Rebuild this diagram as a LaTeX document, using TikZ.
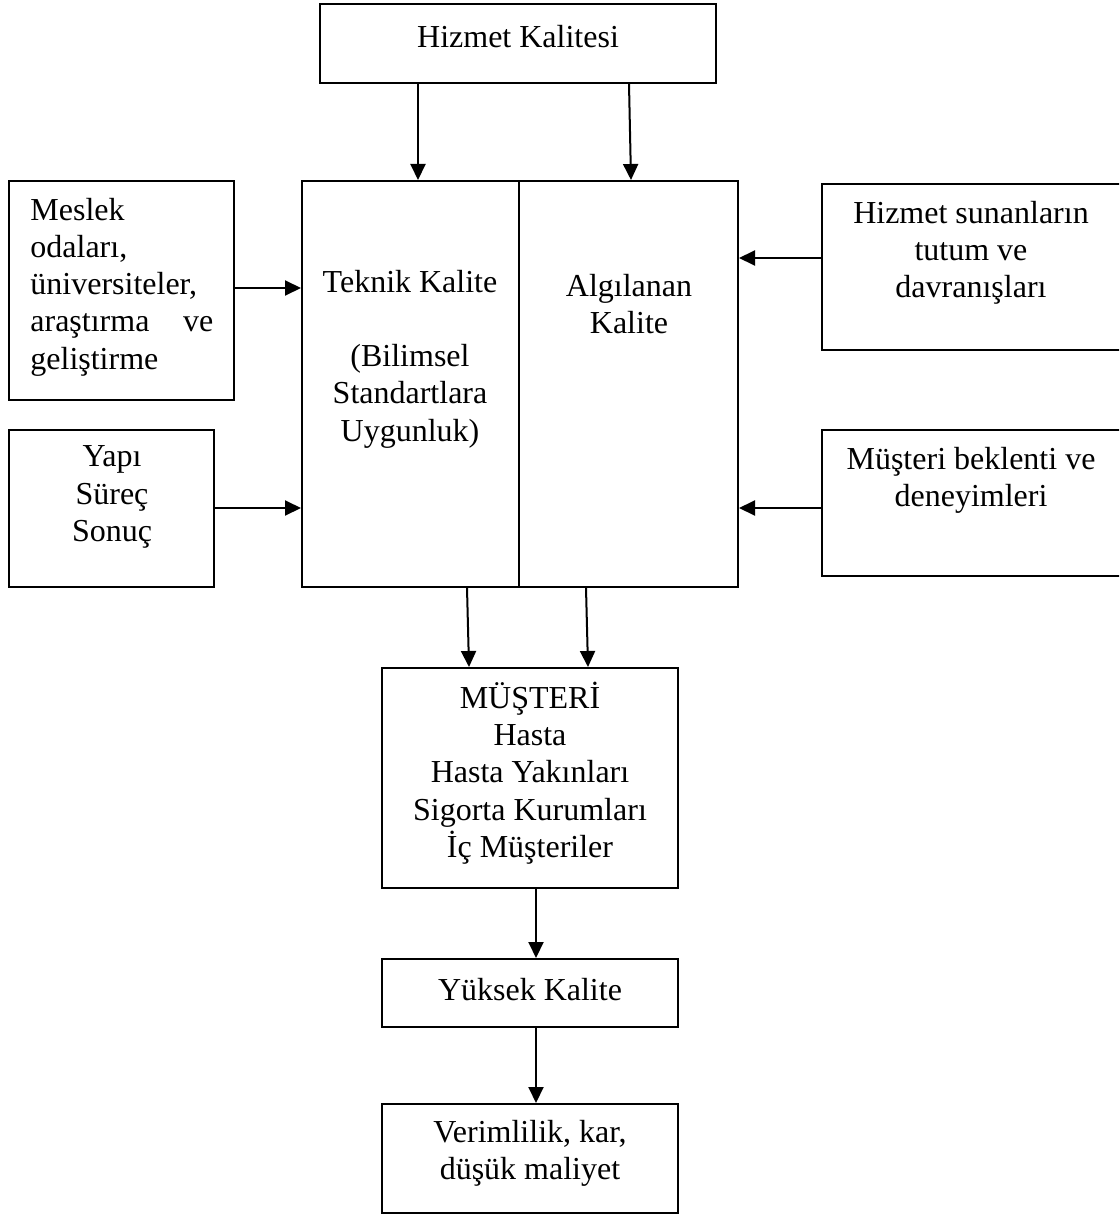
\documentclass[tikz,border=0pt]{standalone}
\usepackage{fontspec}
\setmainfont{Liberation Serif}
\usetikzlibrary{arrows.meta,fit}
\begin{document}
\begin{tikzpicture}[x=0.5pt,y=-0.5pt,
  box/.style={draw,line width=1pt,inner sep=0pt,rectangle},
  txt/.style={font=\fontsize{16pt}{18.6pt}\selectfont,align=center,inner sep=0pt},
  arr/.style={line width=1pt,-{Triangle[length=8pt,width=7.5pt]}}]
\useasboundingbox (0,0) rectangle (1119,1214);
\clip (0,0) rectangle (1119,1214);
% boxes
\node[box, fit={(320,4) (716,83)}] (hk) {};
\node[box, fit={(302,181) (519,587)}] (tek) {};
\node[box, fit={(519,181) (738,587)}] (alg) {};
\node[box, fit={(9,181) (234,400)}] (mes) {};
\node[box, fit={(9,430) (214,587)}] (yapi) {};
\node[box, fit={(822,184) (1135,350)}] (hsun) {};
\node[box, fit={(822,430) (1135,576)}] (mbek) {};
\node[box, fit={(382,668) (678,888)}] (mus) {};
\node[box, fit={(382,959) (678,1027)}] (yuk) {};
\node[box, fit={(382,1104) (678,1213)}] (ver) {};
% texts
\node[txt] (hkT) at (518,37) {Hizmet Kalitesi};
\node[txt] (tekT) at (410,359) {Teknik Kalite\\ \\ (Bilimsel\\ Standartlara\\ Uygunluk)};
\node[txt] (algT) at (629,304) {Algılanan\\ Kalite};
\node[txt, align=left, text width=91.5pt, anchor=west] (mesT) at (30,287) {Meslek\\ odaları,\\ üniversiteler,\\ araştırma\hskip 0pt plus 1filll ve\\ geliştirme};
\node[txt] (yapiT) at (112,497) {Yapı\\ Süreç\\ Sonuç};
\node[txt] (hsunT) at (971,253) {Hizmet sunanların\\ tutum ve\\ davranışları};
\node[txt] (mbekT) at (971,480) {Müşteri beklenti ve\\ deneyimleri};
\node[txt] (musT) at (530,773) {MÜŞTERİ\\ Hasta\\ Hasta Yakınları\\ Sigorta Kurumları\\ İç Müşteriler};
\node[txt] (yukT) at (530,990) {Yüksek Kalite};
\node[txt] (verT) at (530,1153) {Verimlilik, kar,\\ düşük maliyet};
% connectors
\draw[arr] (hk.south -| 418,0) -- (tek.north -| 418,0);
\draw[arr] (hk.south -| 629,0) -- (alg.north -| 631,0);
\draw[arr] (mes.east |- 0,288) -- (tek.west |- 0,288);
\draw[arr] (yapi.east |- 0,508) -- (tek.west |- 0,508);
\draw[arr] (hsun.west |- 0,258) -- (alg.east |- 0,258);
\draw[arr] (mbek.west |- 0,508) -- (alg.east |- 0,508);
\draw[arr] (tek.south -| 467,0) -- (mus.north -| 469,0);
\draw[arr] (alg.south -| 586,0) -- (mus.north -| 588,0);
\draw[arr] (mus.south -| 536,0) -- (yuk.north -| 536,0);
\draw[arr] (yuk.south -| 536,0) -- (ver.north -| 536,0);
\end{tikzpicture}
\end{document}
